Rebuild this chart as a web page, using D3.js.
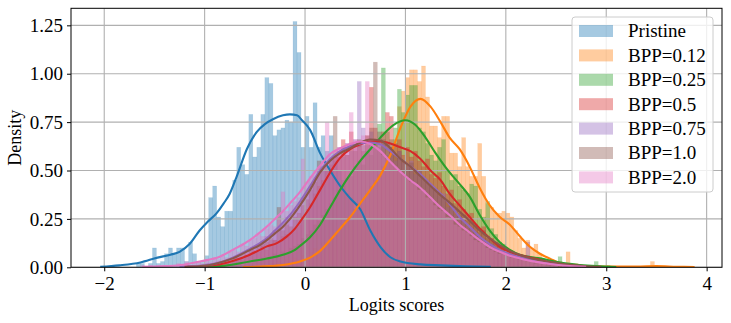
<!DOCTYPE html>
<html>
<head>
<meta charset="utf-8">
<script src="https://cdn.jsdelivr.net/npm/d3@7"></script>
<style>
  body { margin: 0; background: #fff; }
  text { font-family: "Liberation Serif", "DejaVu Serif", serif; fill: #000; }
</style>
</head>
<body>
<div id="chart-area"></div>
<script>
// series names and colours (tab10)
const seriesNames = ["Pristine", "BPP=0.12", "BPP=0.25", "BPP=0.5", "BPP=0.75", "BPP=1.0", "BPP=2.0"];
const seriesColors = ["#1f77b4", "#ff7f0e", "#2ca02c", "#d62728", "#9467bd", "#8c564b", "#e377c2"];

const xTicks = [-2, -1, 0, 1, 2, 3, 4];
const yTicks = [0, 0.25, 0.5, 0.75, 1.0, 1.25];

// histogram bins (density), all with width 0.04, first bin left edge given
const binWidth = 0.04;
const histStarts = [-1.72, -0.60, -1.04, -1.20, -1.24, -1.20, -1.64];

const pristineHist = [
  0, 0.02, 0.02, 0, 0.02, 0.10, 0.02, 0.03, 0.07, 0.10,
  0.07, 0.10, 0.10, 0.03, 0.13, 0.07, 0.03, 0.03, 0.06, 0.36,
  0.42, 0.26, 0.21, 0.29, 0.29, 0.45, 0.62, 0.53, 0.48, 0.79,
  0.57, 0.62, 0.79, 0.98, 0.95, 0.68, 0.71, 0.72, 0.76, 0.75,
  1.27, 1.11, 0.62, 0.78, 0.62, 0.85, 0.62, 0.68, 0.60, 0.68,
  0.55, 0.50, 0.45, 0.38, 0.36, 0.30, 0.33, 0.26, 0.22, 0.17,
  0.14, 0.10, 0.09, 0.06, 0.05, 0.03, 0.04, 0.02, 0.02, 0,
  0.02, 0
];
const bpp012Hist = [
  0, 0.01, 0, 0.01, 0.02, 0.01, 0.02, 0.02, 0.03, 0.02,
  0.04, 0.03, 0.05, 0.04, 0.06, 0.05, 0.08, 0.10, 0.09, 0.13,
  0.12, 0.16, 0.18, 0.20, 0.22, 0.25, 0.24, 0.30, 0.33, 0.35,
  0.38, 0.42, 0.45, 0.48, 0.52, 0.56, 0.62, 0.66, 0.83, 0.91,
  0.98, 1.02, 1.02, 0.96, 1.04, 0.88, 0.73, 0.73, 0.67, 0.78,
  0.78, 0.59, 0.59, 0.52, 0.67, 0.52, 0.47, 0.47, 0.64, 0.47,
  0.33, 0.31, 0.28, 0.28, 0.29, 0.28, 0.26, 0.19, 0.15, 0.10,
  0.14, 0.10, 0.12, 0.07, 0.04, 0.04, 0.04, 0.02, 0.03, 0.02,
  0.08, 0.02, 0.02, 0, 0.01,
  0, 0, 0, 0, 0, 0, 0, 0, 0, 0, 0, 0, 0, 0, 0, 0,
  0.03
];
const bpp025Hist = [
  0, 0.01, 0, 0.01, 0, 0.01, 0.02, 0.01, 0.02, 0.02,
  0.01, 0.03, 0.02, 0.04, 0.03, 0.05, 0.04, 0.05, 0.07, 0.06,
  0.08, 0.07, 0.10, 0.11, 0.12, 0.15, 0.17, 0.19, 0.22, 0.24,
  0.27, 0.30, 0.33, 0.36, 0.40, 0.42, 0.46, 0.47, 0.52, 0.55,
  0.53, 0.60, 0.58, 0.66, 0.74, 1.03, 0.70, 0.66, 0.72, 0.92,
  0.80, 0.89, 0.94, 0.94, 0.72, 0.70, 0.64, 0.58, 0.55, 0.62,
  0.66, 0.50, 0.45, 0.48, 0.42, 0.40, 0.38, 0.43, 0.42, 0.30,
  0.26, 0.34, 0.20, 0.17, 0.13, 0.12, 0.09, 0.08, 0.07, 0.06,
  0.05, 0.06, 0.04, 0.05, 0.03, 0.04, 0.03, 0.02, 0.02, 0.055,
  0.01, 0.02, 0.01, 0.01, 0, 0.01, 0, 0, 0.03, 0,
  0, 0.01
];
const bpp05Hist = [
  0.01, 0, 0.01, 0, 0.01, 0, 0.01, 0.02, 0.01, 0.02,
  0.03, 0.02, 0.04, 0.05, 0.04, 0.07, 0.06, 0.09, 0.08, 0.11,
  0.09, 0.12, 0.14, 0.13, 0.16, 0.17, 0.18, 0.20, 0.22, 0.26,
  0.30, 0.33, 0.38, 0.42, 0.45, 0.50, 0.53, 0.57, 0.60, 0.66,
  0.58, 0.70, 0.62, 0.64, 0.60, 0.68, 0.93, 0.72, 0.62, 0.70,
  0.80, 0.78, 0.64, 0.66, 0.58, 0.62, 0.57, 0.60, 0.55, 0.52,
  0.56, 0.48, 0.46, 0.49, 0.42, 0.38, 0.40, 0.33, 0.35, 0.30,
  0.27, 0.28, 0.22, 0.20, 0.21, 0.16, 0.15, 0.12, 0.11, 0.09,
  0.08, 0.07, 0.06, 0.06, 0.05, 0.04, 0.04, 0.03, 0.04, 0.02,
  0.02, 0.02, 0.01, 0.01, 0, 0.01
];
const bpp075Hist = [
  0.01, 0, 0.01, 0, 0.01, 0.01, 0.02, 0.01, 0.02, 0.03,
  0.02, 0.04, 0.03, 0.05, 0.06, 0.05, 0.08, 0.09, 0.11, 0.10,
  0.13, 0.16, 0.14, 0.19, 0.20, 0.22, 0.26, 0.25, 0.30, 0.32,
  0.36, 0.38, 0.42, 0.45, 0.48, 0.52, 0.50, 0.56, 0.58, 0.62,
  0.57, 0.64, 0.60, 0.66, 0.96, 0.72, 0.63, 0.70, 0.62, 0.66,
  0.64, 0.58, 0.62, 0.55, 0.60, 0.54, 0.52, 0.55, 0.48, 0.50,
  0.46, 0.44, 0.42, 0.40, 0.37, 0.38, 0.31, 0.32, 0.27, 0.26,
  0.24, 0.21, 0.20, 0.17, 0.16, 0.14, 0.12, 0.12, 0.09, 0.09,
  0.07, 0.07, 0.06, 0.05, 0.05, 0.04, 0.13, 0.03, 0.03, 0.03,
  0.02, 0.02, 0.01, 0.01, 0, 0.01
];
const bpp10Hist = [
  0, 0.01, 0, 0.01, 0, 0.01, 0.01, 0.02, 0.01, 0.03,
  0.02, 0.04, 0.05, 0.04, 0.07, 0.06, 0.09, 0.08, 0.11, 0.12,
  0.13, 0.15, 0.14, 0.31, 0.19, 0.22, 0.21, 0.26, 0.28, 0.32,
  0.35, 0.40, 0.44, 0.55, 0.50, 0.52, 0.56, 0.78, 0.57, 0.62,
  0.58, 0.64, 0.60, 0.66, 0.63, 0.68, 0.72, 1.06, 0.70, 0.66,
  0.64, 0.62, 0.58, 0.60, 0.55, 0.53, 0.54, 0.49, 0.50, 0.46,
  0.44, 0.42, 0.40, 0.38, 0.36, 0.34, 0.33, 0.30, 0.28, 0.27,
  0.24, 0.23, 0.21, 0.18, 0.19, 0.15, 0.14, 0.13, 0.11, 0.10,
  0.09, 0.08, 0.07, 0.06, 0.06, 0.05, 0.04, 0.04, 0.03, 0.03,
  0.02, 0.03, 0.01, 0.02, 0.01, 0.01, 0, 0.01
];
const bpp20Hist = [
  0.01, 0, 0.01, 0, 0.01, 0, 0.01, 0.01, 0, 0.02,
  0.01, 0.03, 0.01, 0.02, 0.03, 0.02, 0.04, 0.03, 0.05, 0.04,
  0.06, 0.05, 0.08, 0.09, 0.08, 0.12, 0.11, 0.14, 0.15, 0.17,
  0.16, 0.20, 0.22, 0.21, 0.25, 0.39, 0.29, 0.32, 0.34, 0.36,
  0.56, 0.44, 0.47, 0.50, 0.52, 0.55, 0.75, 0.58, 0.60, 0.62,
  0.58, 0.64, 0.80, 0.66, 0.62, 0.68, 0.96, 0.66, 0.62, 0.64,
  0.58, 0.56, 0.54, 0.52, 0.50, 0.48, 0.46, 0.44, 0.43, 0.40,
  0.40, 0.36, 0.35, 0.32, 0.30, 0.29, 0.26, 0.25, 0.22, 0.21,
  0.19, 0.18, 0.16, 0.14, 0.13, 0.12, 0.10, 0.09, 0.08, 0.07,
  0.07, 0.06, 0.05, 0.05, 0.04, 0.04, 0.03, 0.03, 0.02, 0.02,
  0.02, 0.01, 0.01, 0.01, 0, 0.01
];
const histValues = [pristineHist, bpp012Hist, bpp025Hist, bpp05Hist, bpp075Hist, bpp10Hist, bpp20Hist];

// KDE curves: [logit, density]
const pristineKde = [[-2.04,0.002],[-1.85,0.01],[-1.64,0.025],[-1.47,0.05],[-1.34,0.065],[-1.25,0.08],[-1.15,0.12],
  [-1.05,0.19],[-0.97,0.235],[-0.88,0.28],[-0.81,0.33],[-0.75,0.38],[-0.68,0.47],[-0.58,0.61],[-0.48,0.70],
  [-0.40,0.74],[-0.32,0.765],[-0.22,0.785],[-0.15,0.79],[-0.08,0.785],[-0.03,0.76],[0.05,0.71],[0.15,0.59],
  [0.25,0.50],[0.35,0.42],[0.45,0.356],[0.55,0.30],[0.65,0.19],[0.75,0.106],[0.85,0.052],[0.95,0.03],
  [1.15,0.015],[1.35,0.01],[1.6,0.005],[1.85,0.002]];
const bpp012Kde = [[-0.62,0.001],[-0.4,0.005],[-0.22,0.012],[-0.05,0.03],[0.05,0.05],[0.15,0.085],[0.25,0.14],
  [0.35,0.20],[0.45,0.26],[0.55,0.33],[0.65,0.40],[0.75,0.475],[0.85,0.58],[0.95,0.72],[1.05,0.83],[1.15,0.87],
  [1.25,0.83],[1.35,0.75],[1.44,0.67],[1.54,0.61],[1.64,0.52],[1.74,0.41],[1.84,0.32],[1.94,0.26],[2.04,0.22],
  [2.14,0.16],[2.24,0.106],[2.34,0.07],[2.44,0.045],[2.55,0.02],[2.74,0.008],[3.0,0.004],[3.3,0.004],
  [3.5,0.006],[3.7,0.003],[3.88,0.001]];
const bpp025Kde = [[-1.05,0.002],[-0.8,0.008],[-0.55,0.03],[-0.38,0.045],[-0.22,0.065],[-0.1,0.09],[-0.05,0.11],
  [0.05,0.155],[0.15,0.22],[0.25,0.31],[0.35,0.40],[0.45,0.48],[0.55,0.55],[0.65,0.61],[0.75,0.67],[0.88,0.735],
  [1.0,0.76],[1.1,0.735],[1.2,0.67],[1.3,0.59],[1.44,0.49],[1.54,0.43],[1.64,0.365],[1.74,0.27],[1.84,0.19],
  [1.94,0.13],[2.04,0.09],[2.14,0.065],[2.24,0.053],[2.34,0.046],[2.44,0.035],[2.54,0.024],[2.74,0.012],
  [2.9,0.006],[3.1,0.001]];
const bpp05Kde = [[-1.2,0.002],[-1.0,0.008],[-0.85,0.015],[-0.72,0.032],[-0.55,0.065],[-0.45,0.09],[-0.38,0.108],
  [-0.28,0.125],[-0.18,0.16],[-0.1,0.2],[-0.05,0.235],[0.05,0.31],[0.15,0.40],[0.25,0.49],[0.35,0.565],
  [0.45,0.61],[0.55,0.635],[0.65,0.65],[0.75,0.65],[0.85,0.64],[0.95,0.62],[1.05,0.60],[1.15,0.56],[1.25,0.50],
  [1.35,0.45],[1.44,0.38],[1.54,0.32],[1.64,0.26],[1.74,0.20],[1.84,0.15],[1.94,0.106],[2.04,0.08],
  [2.14,0.063],[2.24,0.05],[2.34,0.038],[2.44,0.024],[2.6,0.01],[2.8,0.003]];
const bpp075Kde = [[-1.25,0.002],[-1.0,0.01],[-0.85,0.025],[-0.72,0.05],[-0.55,0.095],[-0.45,0.125],[-0.38,0.15],
  [-0.3,0.19],[-0.22,0.23],[-0.15,0.27],[-0.05,0.34],[0.05,0.42],[0.15,0.5],[0.25,0.56],[0.35,0.60],
  [0.45,0.625],[0.55,0.64],[0.65,0.645],[0.75,0.635],[0.85,0.60],[0.95,0.56],[1.05,0.52],[1.15,0.48],
  [1.25,0.43],[1.35,0.38],[1.45,0.32],[1.54,0.26],[1.64,0.21],[1.74,0.158],[1.84,0.12],[1.94,0.089],
  [2.04,0.068],[2.14,0.052],[2.3,0.032],[2.44,0.02],[2.6,0.01],[2.75,0.003]];
const bpp10Kde = [[-1.2,0.002],[-1.0,0.008],[-0.88,0.02],[-0.72,0.046],[-0.55,0.089],[-0.45,0.115],[-0.38,0.14],
  [-0.3,0.175],[-0.22,0.21],[-0.15,0.25],[-0.05,0.32],[0.05,0.40],[0.15,0.49],[0.25,0.55],[0.35,0.59],
  [0.45,0.615],[0.55,0.645],[0.65,0.66],[0.75,0.655],[0.85,0.615],[0.95,0.56],[1.05,0.52],[1.15,0.47],
  [1.25,0.42],[1.35,0.373],[1.45,0.33],[1.54,0.287],[1.64,0.24],[1.74,0.19],[1.84,0.15],[1.94,0.115],
  [2.04,0.085],[2.14,0.063],[2.3,0.04],[2.44,0.029],[2.6,0.015],[2.8,0.005],[2.95,0.002]];
const bpp20Kde = [[-1.62,0.002],[-1.4,0.006],[-1.21,0.013],[-1.05,0.03],[-0.85,0.055],[-0.72,0.09],[-0.55,0.14],
  [-0.45,0.18],[-0.38,0.21],[-0.3,0.25],[-0.22,0.29],[-0.15,0.33],[-0.05,0.39],[0.05,0.46],[0.15,0.525],
  [0.25,0.585],[0.35,0.615],[0.45,0.637],[0.55,0.65],[0.65,0.637],[0.75,0.60],[0.85,0.545],[0.95,0.494],
  [1.05,0.45],[1.15,0.41],[1.25,0.36],[1.35,0.31],[1.45,0.265],[1.54,0.22],[1.64,0.18],[1.74,0.14],
  [1.84,0.105],[1.94,0.08],[2.04,0.06],[2.14,0.046],[2.3,0.028],[2.44,0.017],[2.6,0.008],[2.8,0.002]];
const kdeValues = [pristineKde, bpp012Kde, bpp025Kde, bpp05Kde, bpp075Kde, bpp10Kde, bpp20Kde];

const margin = {left: 71, right: 9, top: 8.3, bottom: 55.7};
const width = 731 - margin.left - margin.right;
const height = 323 - margin.top - margin.bottom;

const svg = d3.select("#chart-area")
  .append("svg")
    .attr("width", 731)
    .attr("height", 323)
  .append("g")
    .attr("transform", "translate(" + margin.left + "," + margin.top + ")");

const x = d3.scaleLinear().domain([-2.331, 4.153]).range([0, width]);
const y = d3.scaleLinear().domain([0, 1.338]).range([height, 0]);

svg.append("clipPath").attr("id", "plot-clip")
  .append("rect").attr("width", width).attr("height", height);

const plot = svg.append("g").attr("clip-path", "url(#plot-clip)");

// histogram bars, one layer per series (thin same-colour edges like matplotlib)
histValues.forEach((vals, s) => {
  const bins = vals.map((v, i) => ({x0: histStarts[s] + i * binWidth, h: v})).filter(d => d.h > 0);
  plot.append("g")
    .selectAll("rect")
    .data(bins)
    .enter()
    .append("rect")
      .attr("x", d => x(d.x0))
      .attr("width", d => x(d.x0 + binWidth) - x(d.x0))
      .attr("y", d => y(d.h))
      .attr("height", d => y(0) - y(d.h))
      .attr("fill", seriesColors[s])
      .attr("fill-opacity", 0.4)
      .attr("stroke", seriesColors[s])
      .attr("stroke-opacity", 0.15)
      .attr("stroke-width", 0.5);
});

// grid above the bars, under the lines
plot.append("g").selectAll("line").data(xTicks).enter().append("line")
  .attr("x1", d => x(d)).attr("x2", d => x(d))
  .attr("y1", 0).attr("y2", height)
  .attr("stroke", "#b0b0b0").attr("stroke-width", 1.1);
plot.append("g").selectAll("line").data(yTicks).enter().append("line")
  .attr("x1", 0).attr("x2", width)
  .attr("y1", d => y(d)).attr("y2", d => y(d))
  .attr("stroke", "#b0b0b0").attr("stroke-width", 1.1);

// KDE lines
const kdeLine = d3.line()
  .x(d => x(d[0]))
  .y(d => y(d[1]))
  .curve(d3.curveMonotoneX);
kdeValues.forEach((pts, s) => {
  plot.append("path")
    .attr("d", kdeLine(pts))
    .attr("fill", "none")
    .attr("stroke", seriesColors[s])
    .attr("stroke-width", 2.1);
});

// axes
const xAxis = d3.axisBottom(x).tickValues(xTicks).tickFormat(d3.format("d")).tickSize(4).tickPadding(5);
const yAxis = d3.axisLeft(y).tickValues(yTicks).tickFormat(d3.format(".2f")).tickSize(4).tickPadding(4);

const gx = svg.append("g").attr("transform", "translate(0," + height + ")").call(xAxis);
const gy = svg.append("g").call(yAxis);
[gx, gy].forEach(g => {
  g.select(".domain").remove();
  g.selectAll("text").attr("font-size", "19px").attr("font-family", "Liberation Serif");
  g.selectAll("line").attr("stroke", "#000").attr("stroke-width", 1);
});

// frame
svg.append("rect")
  .attr("width", width).attr("height", height)
  .attr("fill", "none").attr("stroke", "#000").attr("stroke-width", 1);

// labels
svg.append("text")
  .attr("x", width / 2)
  .attr("y", 311.3 - margin.top)
  .attr("text-anchor", "middle")
  .attr("font-size", "18px")
  .text("Logits scores");

svg.append("text")
  .attr("transform", "rotate(-90)")
  .attr("x", -height / 2)
  .attr("y", 21 - margin.left)
  .attr("text-anchor", "middle")
  .attr("font-size", "18px")
  .text("Density");

// legend
const legend = svg.append("g")
  .attr("transform", "translate(" + (572 - margin.left) + "," + (17 - margin.top) + ")");
legend.append("rect")
  .attr("width", 141).attr("height", 175).attr("rx", 3)
  .attr("fill", "#fff").attr("fill-opacity", 0.8)
  .attr("stroke", "#cccccc").attr("stroke-width", 1);

seriesNames.forEach((name, i) => {
  const row = legend.append("g")
    .attr("transform", "translate(0," + (14 + i * 24.4) + ")");
  row.append("rect")
    .attr("x", 7).attr("y", -6)
    .attr("width", 34).attr("height", 12)
    .attr("fill", seriesColors[i]).attr("fill-opacity", 0.4);
  row.append("text")
    .attr("x", 56).attr("y", 6.3)
    .attr("font-size", "19px")
    .text(name);
});
</script>
</body>
</html>
